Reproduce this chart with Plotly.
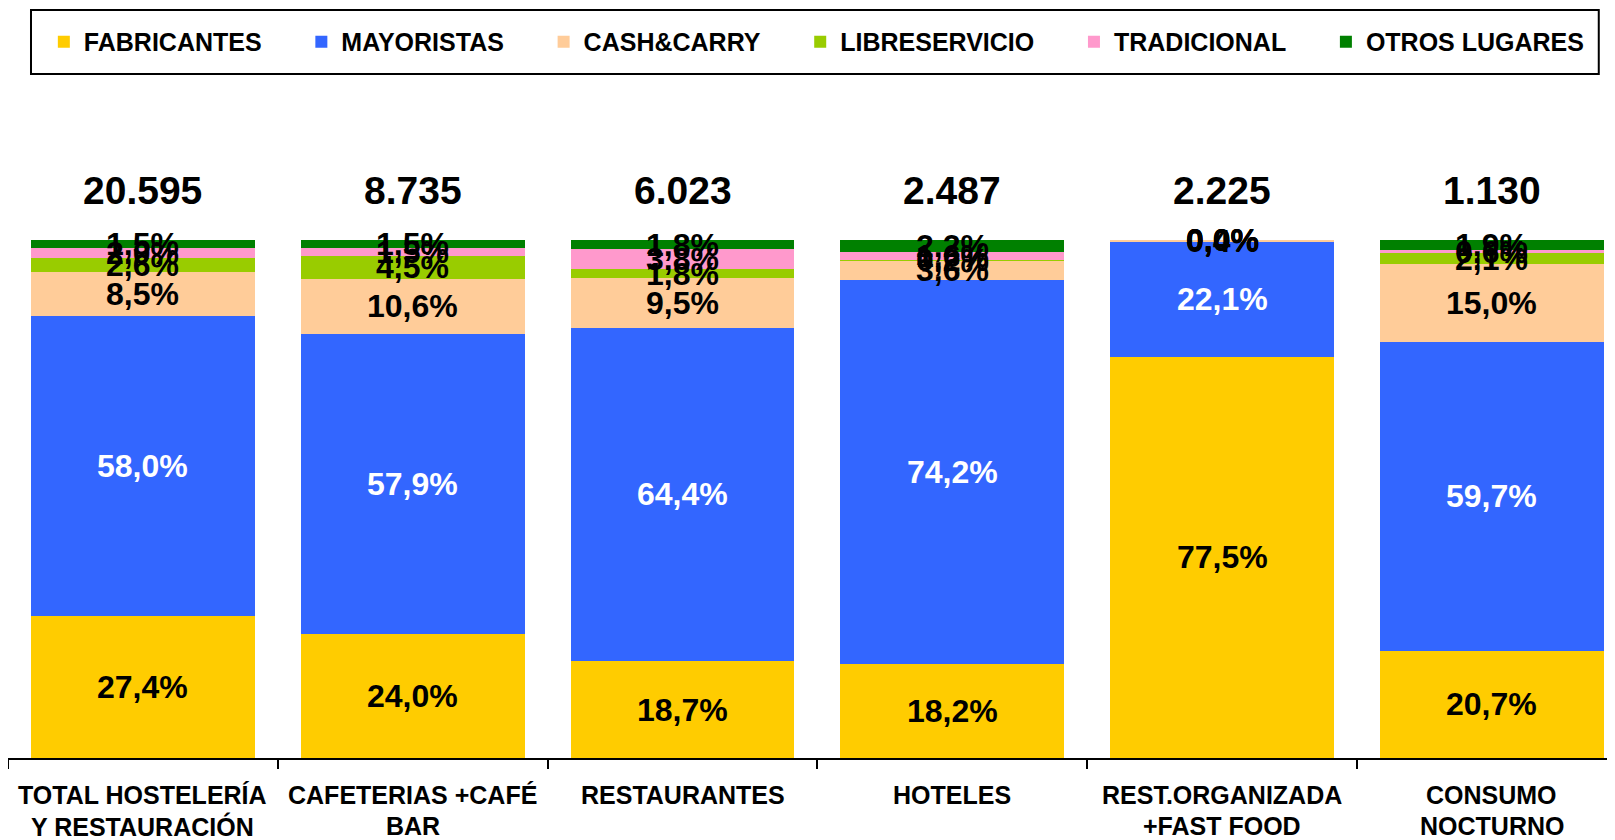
import plotly.graph_objects as go

categories = ["TOTAL HOSTELERÍA<br>Y RESTAURACIÓN", "CAFETERIAS +CAFÉ<br>BAR", "RESTAURANTES",
              "HOTELES", "REST.ORGANIZADA<br>+FAST FOOD", "CONSUMO<br>NOCTURNO"]
totals = [20595, 8735, 6023, 2487, 2225, 1130]

fabricantes = [27.4, 24.0, 18.7, 18.2, 77.5, 20.7]
mayoristas = [58.0, 57.9, 64.4, 74.2, 22.1, 59.7]
cash_carry = [8.5, 10.6, 9.5, 3.6, 0.4, 15.0]
libreservicio = [2.6, 4.5, 1.8, 0.2, 0.0, 2.1]
tradicional = [2.0, 1.5, 3.8, 1.6, 0.0, 0.6]
otros_lugares = [1.5, 1.5, 1.8, 2.2, 0.0, 1.9]

series = [
    ("FABRICANTES", fabricantes, "#FFCC00", "black"),
    ("MAYORISTAS", mayoristas, "#3366FF", "white"),
    ("CASH&CARRY", cash_carry, "#FFCC99", "black"),
    ("LIBRESERVICIO", libreservicio, "#99CC00", "black"),
    ("TRADICIONAL", tradicional, "#FF99CC", "black"),
    ("OTROS LUGARES", otros_lugares, "#008000", "black"),
]

FONT = "Liberation Sans, Arial, sans-serif"
PAD = "\u00a0" * 5

fig = go.Figure()
annotations = []
base = [0.0] * len(categories)
for k, (name, vals, color, tcol) in enumerate(series):
    label = name + (PAD if k < len(series) - 1 else "")
    fig.add_trace(go.Bar(name=label, x=categories, y=vals,
                         marker=dict(color=color, line=dict(width=0))))
    for i, v in enumerate(vals):
        annotations.append(dict(
            x=categories[i], y=base[i] + v / 2, xref="x", yref="y",
            text="<b>" + f"{v:.1f}".replace(".", ",") + "%</b>", showarrow=False,
            font=dict(family=FONT, size=32, color=tcol)))
        base[i] += v

for i, t in enumerate(totals):
    annotations.append(dict(
        x=categories[i], y=109.5, xref="x", yref="y",
        text="<b>" + f"{t:,}".replace(",", ".") + "</b>", showarrow=False,
        font=dict(family=FONT, size=39, color="black")))

# category labels, one annotation per line
for cat in categories:
    for j, line in enumerate(cat.split("<br>")):
        annotations.append(dict(
            x=cat, y=0, xref="x", yref="paper", yanchor="middle",
            yshift=-37 - 31 * j, text="<b>" + line + "</b>", showarrow=False,
            font=dict(family=FONT, size=25, color="black")))

W = 1607
fig.update_layout(
    width=W, height=832,
    margin=dict(l=0, r=0, t=82, b=82),
    paper_bgcolor="white", plot_bgcolor="white",
    barmode="stack", bargap=0.17,
    annotations=annotations,
    showlegend=True,
    legend=dict(orientation="h", x=0.0223, y=1.072, xanchor="left", yanchor="middle",
                bgcolor="rgba(0,0,0,0)",
                font=dict(family=FONT, size=25, color="black", weight="bold"),
                traceorder="normal", itemclick=False),
    shapes=[dict(type="rect", xref="paper", yref="paper", x0=0.01431, x1=0.9899, y0=1.024, y1=1.1198,
                 line=dict(color="black", width=2), fillcolor="rgba(0,0,0,0)")],
    xaxis=dict(range=[-0.5, -0.5 + W / 269.8],
               showline=True, linecolor="black", linewidth=2,
               ticks="outside", tickson="boundaries", ticklen=9, tickcolor="black", tickwidth=2,
               showticklabels=False, showgrid=False, zeroline=False),
    yaxis=dict(range=[0, 129], visible=False, showgrid=False, zeroline=False),
)

fig.write_html("out.html")
